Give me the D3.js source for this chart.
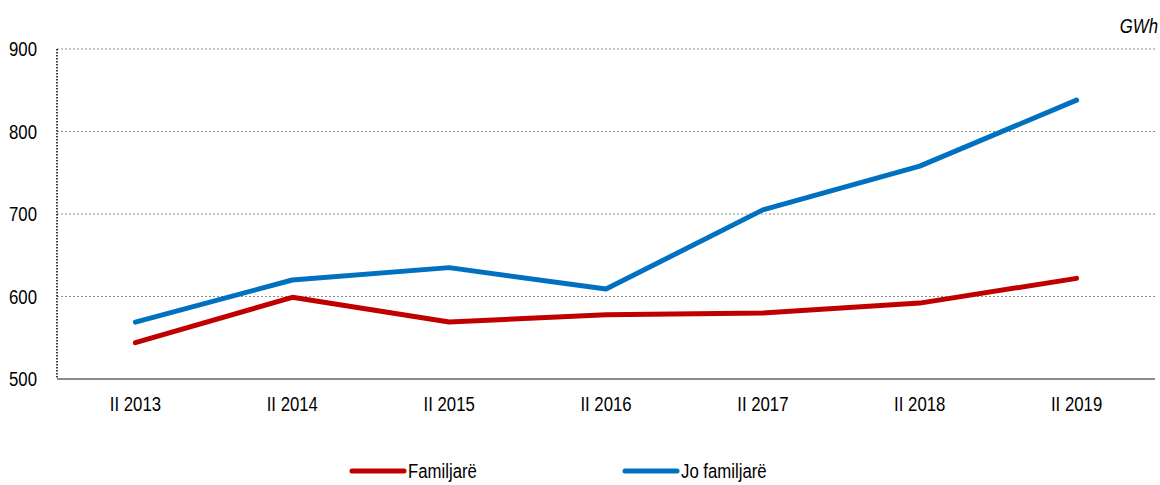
<!DOCTYPE html>
<html>
<head>
<meta charset="utf-8">
<script src="https://cdn.jsdelivr.net/npm/d3@7"></script>
<style>
  body { margin: 0; background: #fff; }
  text { font-family: "Liberation Sans", Arial, sans-serif; fill: #000; }
</style>
</head>
<body>
<div id="chart"></div>
<script>
// data
let periods = ["II 2013", "II 2014", "II 2015", "II 2016", "II 2017", "II 2018", "II 2019"];
let familjare = [544, 599, 569, 578, 580, 592, 622];
let joFamiljare = [569, 620, 635, 609, 705, 758, 838];
let yTicks = [500, 600, 700, 800, 900];

let width = 1160, height = 485;
let margin = { top: 49, right: 5, bottom: 106, left: 57 };
let fontSize = 19.5;
let squeeze = 0.86; // narrow font look

let svg = d3.select("#chart")
    .append("svg")
    .attr("width", width)
    .attr("height", height);

let x = d3.scalePoint()
    .domain(periods)
    .range([margin.left, width - margin.right])
    .padding(0.5);

let y = d3.scaleLinear()
    .domain([500, 900])
    .range([height - margin.bottom, margin.top]);

function place(px, py) {
    return "translate(" + px + "," + py + ") scale(" + squeeze + ",1)";
}

// gridlines
svg.append("g")
    .selectAll("line")
    .data(yTicks.filter(d => d > 500))
    .enter()
    .append("line")
    .attr("x1", margin.left)
    .attr("x2", width - margin.right)
    .attr("y1", d => y(d))
    .attr("y2", d => y(d))
    .attr("stroke", "#8c8c8c")
    .attr("stroke-width", 1)
    .attr("stroke-dasharray", "2,2");

// y axis line (dotted)
svg.append("line")
    .attr("x1", margin.left)
    .attr("x2", margin.left)
    .attr("y1", y(900))
    .attr("y2", y(500))
    .attr("stroke", "#000")
    .attr("stroke-width", 1.5)
    .attr("stroke-dasharray", "1.5,1.5");

// x axis line
svg.append("line")
    .attr("x1", margin.left)
    .attr("x2", width - margin.right)
    .attr("y1", y(500))
    .attr("y2", y(500))
    .attr("stroke", "#8c8c8c")
    .attr("stroke-width", 2);

// y tick labels
svg.append("g")
    .selectAll("text")
    .data(yTicks)
    .enter()
    .append("text")
    .attr("transform", d => place(37, y(d) + 7))
    .attr("text-anchor", "end")
    .attr("font-size", fontSize)
    .text(d => d);

// x tick labels
svg.append("g")
    .selectAll("text")
    .data(periods)
    .enter()
    .append("text")
    .attr("transform", d => place(x(d), 411))
    .attr("text-anchor", "middle")
    .attr("font-size", fontSize)
    .text(d => d);

// unit label
svg.append("text")
    .attr("transform", place(1158, 33))
    .attr("text-anchor", "end")
    .attr("font-size", fontSize)
    .attr("font-style", "italic")
    .text("GWh");

let line = d3.line()
    .x((d, i) => x(periods[i]))
    .y(d => y(d));

let series = [
    { name: "Familjarë", values: familjare, color: "#c00000" },
    { name: "Jo familjarë", values: joFamiljare, color: "#0070c0" }
];

svg.append("g")
    .selectAll("path")
    .data(series)
    .enter()
    .append("path")
    .attr("d", d => line(d.values))
    .attr("fill", "none")
    .attr("stroke", d => d.color)
    .attr("stroke-width", 5)
    .attr("stroke-linecap", "round")
    .attr("stroke-linejoin", "round");

// legend
let legendX = [352, 625];
let legend = svg.append("g")
    .selectAll("g")
    .data(series)
    .enter()
    .append("g")
    .attr("transform", (d, i) => "translate(" + legendX[i] + ",471)");

legend.append("line")
    .attr("x1", 0)
    .attr("x2", 52)
    .attr("stroke", d => d.color)
    .attr("stroke-width", 5)
    .attr("stroke-linecap", "round");

legend.append("text")
    .attr("transform", place(56, 7))
    .attr("font-size", fontSize)
    .text(d => d.name);
</script>
</body>
</html>
